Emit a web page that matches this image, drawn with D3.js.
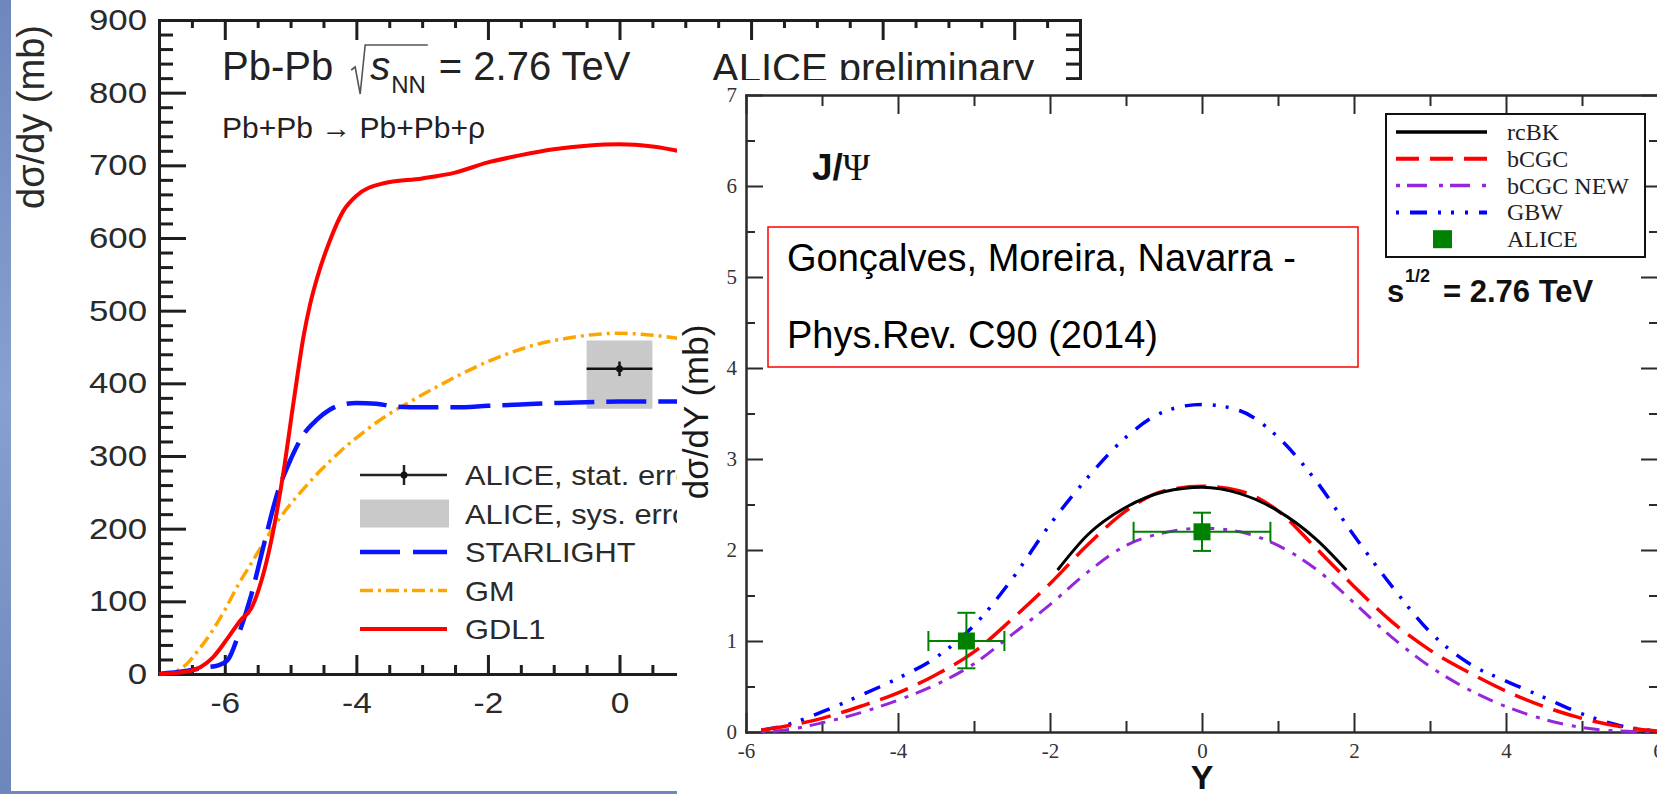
<!DOCTYPE html>
<html>
<head>
<meta charset="utf-8">
<script src="https://cdn.jsdelivr.net/npm/d3@7"></script>
<style>
  html, body { margin: 0; padding: 0; background: #fff; overflow: hidden; }
  svg { display: block; }
</style>
</head>
<body>
<svg id="fig" width="1657" height="794"></svg>
<script>
// ---------------- rho0 photoproduction, Pb-Pb 2.76 TeV ----------------
const gdl1X = [-7, -6.6, -6.36, -6.18, -5.95, -5.76, -5.6, -5.41, -5.27, -5.12, -4.95, -4.8, -4.7, -4.6, -4.4, -4.2, -4.0, -3.6, -3.0, -2.5, -2.0, -1.5, -1.0, -0.5, 0, 0.5, 1.0];
const gdl1V = [0, 3, 10, 23, 50, 74, 90, 139, 194, 271, 377, 466, 510, 544, 597, 637, 658, 675, 682, 690, 704, 714, 722, 727, 729, 726, 718];

const starlightX = [-7, -6.6, -6.3, -6.1, -5.95, -5.8, -5.6, -5.4, -5.2, -5.0, -4.8, -4.6, -4.4, -4.2, -4.0, -3.7, -3.4, -3.0, -2.5, -2.0, -1.5, -1.0, -0.5, 0, 0.5, 1.0];
const starlightV = [0, 4, 9, 12, 20, 52, 108, 180, 249, 295, 330, 350, 364, 371, 373, 372, 368, 367, 367, 369, 371, 373, 374, 375, 375, 375];

const gmX = [-7, -6.8, -6.6, -6.4, -6.2, -6.0, -5.8, -5.6, -5.4, -5.2, -5.0, -4.8, -4.6, -4.4, -4.2, -4.0, -3.6, -3.2, -2.8, -2.4, -2.0, -1.6, -1.2, -0.8, -0.4, 0, 0.4, 0.8, 1.0];
const gmV = [0, 2, 12, 33, 58, 88, 122, 152, 182, 210, 234, 255, 275, 293, 310, 325, 352, 374, 394, 413, 430, 444, 455, 462, 467, 469, 467, 463, 460];

// ALICE preliminary point: value, stat. error, asymmetric sys. error, bin half-width
const rhoDataY = [0];
const rhoDataV = [420];
const rhoStat = [10];
const rhoSysUp = [39];
const rhoSysDown = [55];
const rhoBinHalf = [0.5];

const rhoXTicks = [-6, -4, -2, 0, 2, 4, 6];
const rhoYTicks = [0, 100, 200, 300, 400, 500, 600, 700, 800, 900];
const rhoLegend = ["ALICE, stat. error", "ALICE, sys. error", "STARLIGHT", "GM", "GDL1"];

// ---------------- J/psi photoproduction, sqrt(s) = 2.76 TeV ----------------
const jpsiY = [-5.8, -5.5, -5.0, -4.5, -4.0, -3.5, -3.0, -2.5, -2.0, -1.5, -1.0, -0.5, 0, 0.5, 1.0, 1.5, 2.0, 2.5, 3.0, 3.5, 4.0, 4.5, 5.0, 5.5, 6.0];
const gbwV = [0.02, 0.07, 0.22, 0.40, 0.59, 0.82, 1.17, 1.68, 2.28, 2.80, 3.24, 3.52, 3.60, 3.53, 3.24, 2.76, 2.16, 1.60, 1.10, 0.76, 0.56, 0.38, 0.20, 0.07, 0.01];
const bcgcV = [0.02, 0.06, 0.15, 0.28, 0.43, 0.63, 0.88, 1.24, 1.63, 2.06, 2.43, 2.65, 2.70, 2.65, 2.43, 2.02, 1.60, 1.21, 0.90, 0.66, 0.45, 0.28, 0.15, 0.06, 0.01];
const bcgcNewV = [0.0, 0.02, 0.10, 0.21, 0.35, 0.52, 0.75, 1.07, 1.40, 1.76, 2.05, 2.19, 2.24, 2.20, 2.05, 1.79, 1.42, 1.04, 0.72, 0.47, 0.28, 0.14, 0.05, 0.01, 0.0];

const rcbkY = [-1.9, -1.5, -1.0, -0.5, 0, 0.5, 1.0, 1.5, 1.9];
const rcbkV = [1.78, 2.17, 2.47, 2.64, 2.69, 2.62, 2.43, 2.12, 1.78];

const aliceJpsiY = [-3.1, 0];
const aliceJpsiV = [1.0, 2.2];
const aliceJpsiYErr = [0.5, 0.9];
const aliceJpsiUp = [0.31, 0.21];
const aliceJpsiDown = [0.30, 0.21];

const jpsiXTicks = [-6, -4, -2, 0, 2, 4, 6];
const jpsiXMinor = [-5, -3, -1, 1, 3, 5];
const jpsiYTicks = [0, 1, 2, 3, 4, 5, 6, 7];
const jpsiYMinor = [0.5, 1.5, 2.5, 3.5, 4.5, 5.5, 6.5];
const jpsiLegend = ["rcBK", "bCGC", "bCGC NEW", "GBW", "ALICE"];

// ------------------------------------------------------------------
const SANS = "'Liberation Sans', Arial, Helvetica, sans-serif";
const SERIF = "'Liberation Serif', 'Times New Roman', Times, serif";
const svg = d3.select("#fig");

// widen glyphs horizontally (the ROOT Helvetica rendering is broader than Arial metrics)
function widen(sel, factor) {
  sel.each(function () {
    const w = this.getComputedTextLength();
    if (w > 0) d3.select(this).attr("textLength", w * factor).attr("lengthAdjust", "spacingAndGlyphs");
  });
}

// slide background showing at the edges
const defs = svg.append("defs");
const grad = defs.append("linearGradient").attr("id", "slideBg")
  .attr("x1", 0).attr("y1", 0).attr("x2", 0).attr("y2", 1);
grad.append("stop").attr("offset", 0).attr("stop-color", "#6f87bd");
grad.append("stop").attr("offset", 0.5).attr("stop-color", "#88a0cf");
grad.append("stop").attr("offset", 1).attr("stop-color", "#6d86bb");
svg.append("rect").attr("x", 0).attr("y", 0).attr("width", 11).attr("height", 794).attr("fill", "url(#slideBg)");
svg.append("rect").attr("x", 0).attr("y", 791).attr("width", 677).attr("height", 3).attr("fill", "#6f87bd");

function styleAxis(g, color, width, family, size, textColor) {
  g.attr("font-family", family).attr("font-size", size);
  g.select(".domain").attr("stroke", color).attr("stroke-width", width).attr("stroke-linecap", "square");
  g.selectAll(".tick line").attr("stroke", color).attr("stroke-width", width);
  g.selectAll(".tick text").attr("fill", textColor || color);
}

// ================= left panel =================
const xL = d3.scaleLinear().domain([-7, 7]).range([159, 1080]);
const yL = d3.scaleLinear().domain([0, 900]).range([674, 20]);
const left = svg.append("g");
const axCol = "#1e1e1e";
const lw = 3;

const range = (a, b, s) => { const r = []; for (let v = a; v <= b + 1e-9; v += s) r.push(+v.toFixed(3)); return r; };
const minorLX = range(-7, 7, 0.5).filter(v => !rhoXTicks.includes(v));
const minorLY = range(0, 900, 20).filter(v => !rhoYTicks.includes(v));

// minor ticks first
left.append("g").attr("transform", `translate(${xL(-7)},0)`)
  .call(d3.axisLeft(yL).tickValues(minorLY).tickSize(-14).tickSizeOuter(0).tickFormat(""))
  .call(g => styleAxis(g, axCol, lw, SANS, 30));
left.append("g").attr("transform", `translate(${xL(7)},0)`)
  .call(d3.axisRight(yL).tickValues(minorLY).tickSize(-14).tickSizeOuter(0).tickFormat(""))
  .call(g => styleAxis(g, axCol, lw, SANS, 30));
left.append("g").attr("transform", `translate(0,${yL(0)})`)
  .call(d3.axisBottom(xL).tickValues(minorLX).tickSize(-9).tickSizeOuter(0).tickFormat(""))
  .call(g => styleAxis(g, axCol, lw, SANS, 30));
left.append("g").attr("transform", `translate(0,${yL(900)})`)
  .call(d3.axisTop(xL).tickValues(minorLX).tickSize(-8).tickSizeOuter(0).tickFormat(""))
  .call(g => styleAxis(g, axCol, lw, SANS, 30));

// major ticks and labels
left.append("g").attr("transform", `translate(${xL(-7)},0)`)
  .call(d3.axisLeft(yL).tickValues(rhoYTicks).tickSize(-27).tickSizeOuter(0).tickPadding(12).tickFormat(d => String(d)))
  .call(g => styleAxis(g, axCol, lw, SANS, 30, "#2a2a2a"))
  .call(g => widen(g.selectAll(".tick text"), 1.16));
left.append("g").attr("transform", `translate(${xL(7)},0)`)
  .call(d3.axisRight(yL).tickValues(rhoYTicks).tickSize(-27).tickSizeOuter(0).tickFormat(""))
  .call(g => styleAxis(g, axCol, lw, SANS, 30));
left.append("g").attr("transform", `translate(0,${yL(0)})`)
  .call(d3.axisBottom(xL).tickValues(rhoXTicks).tickSize(-19).tickSizeOuter(0).tickPadding(18).tickFormat(d => String(d)))
  .call(g => styleAxis(g, axCol, lw, SANS, 29, "#2a2a2a"))
  .call(g => widen(g.selectAll(".tick text"), 1.15));
left.append("g").attr("transform", `translate(0,${yL(900)})`)
  .call(d3.axisTop(xL).tickValues(rhoXTicks).tickSize(-20).tickSizeOuter(0).tickFormat(""))
  .call(g => styleAxis(g, axCol, lw, SANS, 30));

// y title
left.append("text")
  .attr("transform", "translate(44,117) rotate(-90)")
  .attr("text-anchor", "middle").attr("font-family", SANS).attr("font-size", 38)
  .attr("fill", "#2a2a2a").text("dσ/dy (mb)");

// systematic box
rhoDataY.forEach((y, i) => {
  left.append("rect")
    .attr("x", xL(y - rhoBinHalf[i])).attr("width", xL(y + rhoBinHalf[i]) - xL(y - rhoBinHalf[i]))
    .attr("y", yL(rhoDataV[i] + rhoSysUp[i])).attr("height", yL(rhoDataV[i] - rhoSysDown[i]) - yL(rhoDataV[i] + rhoSysUp[i]))
    .attr("fill", "#c9c9c9");
});

const lineL = d3.line().x(d => xL(d[0])).y(d => yL(d[1])).curve(d3.curveMonotoneX);
left.append("path").datum(d3.zip(gmX, gmV)).attr("d", lineL)
  .attr("fill", "none").attr("stroke", "#ffa500").attr("stroke-width", 3.5).attr("stroke-dasharray", "13,5,3,5");
left.append("path").datum(d3.zip(starlightX, starlightV)).attr("d", lineL)
  .attr("fill", "none").attr("stroke", "#0a14ff").attr("stroke-width", 4.5).attr("stroke-dasharray", "40,12");
left.append("path").datum(d3.zip(gdl1X, gdl1V)).attr("d", lineL)
  .attr("fill", "none").attr("stroke", "#ff0000").attr("stroke-width", 4);

// data point with stat error
rhoDataY.forEach((y, i) => {
  const cy = yL(rhoDataV[i]);
  left.append("line").attr("x1", xL(y - rhoBinHalf[i])).attr("x2", xL(y + rhoBinHalf[i]))
    .attr("y1", cy).attr("y2", cy).attr("stroke", "#111").attr("stroke-width", 2.5);
  left.append("line").attr("x1", xL(y)).attr("x2", xL(y))
    .attr("y1", yL(rhoDataV[i] + rhoStat[i])).attr("y2", yL(rhoDataV[i] - rhoStat[i]))
    .attr("stroke", "#111").attr("stroke-width", 2.5);
  left.append("circle").attr("cx", xL(y)).attr("cy", cy).attr("r", 3.5).attr("fill", "#111");
});

// header texts
const hdr = left.append("g").attr("font-family", SANS).attr("fill", "#222");
const t1 = hdr.append("text").attr("x", 222).attr("y", 80).attr("font-size", 40).text("Pb-Pb");
const rx = 222 + t1.node().getComputedTextLength() + 20;
const tS = hdr.append("text").attr("x", rx + 17).attr("y", 80).attr("font-size", 40)
  .attr("font-style", "italic").text("s");
const sEnd = rx + 17 + tS.node().getComputedTextLength();
const tNN = hdr.append("text").attr("x", sEnd + 1).attr("y", 93).attr("font-size", 24).text("NN");
const nnEnd = sEnd + 1 + tNN.node().getComputedTextLength();
hdr.append("path")
  .attr("d", `M${rx - 2},70 L${rx + 2},67 L${rx + 7},94 L${rx + 12},45 L${nnEnd + 2},45`)
  .attr("fill", "none").attr("stroke", "#555").attr("stroke-width", 1.6);
hdr.append("text").attr("x", nnEnd + 13).attr("y", 80).attr("font-size", 40).text("= 2.76 TeV");
hdr.append("text").attr("x", 712).attr("y", 82).attr("font-size", 40).text("ALICE preliminary");
hdr.append("text").attr("x", 222).attr("y", 138).attr("font-size", 30).text("Pb+Pb \u2192 Pb+Pb+ρ");

// legend
const legL = left.append("g").attr("font-family", SANS).attr("font-size", 28).attr("fill", "#2a2a2a");
rhoLegend.forEach((name, i) => {
  const y = 475 + i * 38.5;
  if (i === 0) {
    legL.append("line").attr("x1", 360).attr("x2", 447).attr("y1", y).attr("y2", y).attr("stroke", "#222").attr("stroke-width", 2.5);
    legL.append("line").attr("x1", 404).attr("x2", 404).attr("y1", y - 10).attr("y2", y + 10).attr("stroke", "#222").attr("stroke-width", 2.5);
    legL.append("circle").attr("cx", 404).attr("cy", y).attr("r", 3.5).attr("fill", "#111");
  } else if (i === 1) {
    legL.append("rect").attr("x", 360).attr("y", y - 14).attr("width", 89).attr("height", 28).attr("fill", "#c9c9c9");
  } else if (i === 2) {
    legL.append("line").attr("x1", 360).attr("x2", 447).attr("y1", y).attr("y2", y).attr("stroke", "#0a14ff").attr("stroke-width", 4.5).attr("stroke-dasharray", "40,13");
  } else if (i === 3) {
    legL.append("line").attr("x1", 360).attr("x2", 447).attr("y1", y).attr("y2", y).attr("stroke", "#ffa500").attr("stroke-width", 3.5).attr("stroke-dasharray", "13,5,3,5");
  } else {
    legL.append("line").attr("x1", 360).attr("x2", 447).attr("y1", y).attr("y2", y).attr("stroke", "#ff0000").attr("stroke-width", 4);
  }
  legL.append("text").attr("x", 465).attr("y", y + 10).text(name);
});
widen(legL.selectAll("text"), 1.1);

// ================= right panel =================
svg.append("rect").attr("x", 677).attr("y", 80).attr("width", 980).attr("height", 714).attr("fill", "#fff");

const xR = d3.scaleLinear().domain([-6, 6]).range([746, 1658]);
const yR = d3.scaleLinear().domain([0, 7]).range([732, 95]);
const right = svg.append("g");
const rCol = "#2b2b2b";
const rw = 2;

right.append("g").attr("transform", `translate(${xR(-6)},0)`)
  .call(d3.axisLeft(yR).tickValues(jpsiYMinor).tickSize(-9).tickSizeOuter(0).tickFormat(""))
  .call(g => styleAxis(g, rCol, rw, SERIF, 20));
right.append("g").attr("transform", `translate(${xR(6)},0)`)
  .call(d3.axisRight(yR).tickValues(jpsiYMinor).tickSize(-9).tickSizeOuter(0).tickFormat(""))
  .call(g => styleAxis(g, rCol, rw, SERIF, 20));
right.append("g").attr("transform", `translate(0,${yR(0)})`)
  .call(d3.axisBottom(xR).tickValues(jpsiXMinor).tickSize(-11).tickSizeOuter(0).tickFormat(""))
  .call(g => styleAxis(g, rCol, rw, SERIF, 20));
right.append("g").attr("transform", `translate(0,${yR(7)})`)
  .call(d3.axisTop(xR).tickValues(jpsiXMinor).tickSize(-11).tickSizeOuter(0).tickFormat(""))
  .call(g => styleAxis(g, rCol, rw, SERIF, 20));

right.append("g").attr("transform", `translate(${xR(-6)},0)`)
  .call(d3.axisLeft(yR).tickValues(jpsiYTicks).tickSize(-17).tickSizeOuter(0).tickPadding(9).tickFormat(d => String(d)))
  .call(g => styleAxis(g, rCol, rw, SERIF, 21, "#333"));
right.append("g").attr("transform", `translate(${xR(6)},0)`)
  .call(d3.axisRight(yR).tickValues(jpsiYTicks).tickSize(-17).tickSizeOuter(0).tickFormat(""))
  .call(g => styleAxis(g, rCol, rw, SERIF, 20));
right.append("g").attr("transform", `translate(0,${yR(0)})`)
  .call(d3.axisBottom(xR).tickValues(jpsiXTicks).tickSize(-19).tickSizeOuter(0).tickPadding(11).tickFormat(d => String(d)))
  .call(g => styleAxis(g, rCol, rw, SERIF, 21, "#333"));
right.append("g").attr("transform", `translate(0,${yR(7)})`)
  .call(d3.axisTop(xR).tickValues(jpsiXTicks).tickSize(-19).tickSizeOuter(0).tickFormat(""))
  .call(g => styleAxis(g, rCol, rw, SERIF, 20));

// axis titles
right.append("text").attr("transform", "translate(708,412) rotate(-90)")
  .attr("text-anchor", "middle").attr("font-family", SANS).attr("font-size", 35)
  .attr("fill", "#1a1a1a").text("dσ/dY (mb)");
right.append("text").attr("x", 1202).attr("y", 789).attr("text-anchor", "middle")
  .attr("font-family", SANS).attr("font-weight", "bold").attr("font-size", 34).attr("fill", "#111").text("Y");

// model curves
const jpsiStyles = {
  "rcBK": { color: "#000000", width: 3, dash: null, legDash: null },
  "bCGC": { color: "#ff0000", width: 3.5, dash: "30,11", legDash: "23,11" },
  "bCGC NEW": { color: "#9426dc", width: 3, dash: "4,8,16,9", legDash: "4,7,20,12" },
  "GBW": { color: "#0000ff", width: 3.5, dash: "17,11,3,10,3,11", legDash: "3,11,17,11,3,10,3,11" }
};
const lineR = d3.line().x(d => xR(d[0])).y(d => yR(d[1])).curve(d3.curveMonotoneX);
const curveSets = [
  ["GBW", d3.zip(jpsiY, gbwV)],
  ["bCGC NEW", d3.zip(jpsiY, bcgcNewV)],
  ["bCGC", d3.zip(jpsiY, bcgcV)],
  ["rcBK", d3.zip(rcbkY, rcbkV)]
];
curveSets.forEach(([name, pts]) => {
  const s = jpsiStyles[name];
  right.append("path").datum(pts).attr("d", lineR)
    .attr("fill", "none").attr("stroke", s.color).attr("stroke-width", s.width)
    .attr("stroke-dasharray", s.dash);
});

// ALICE J/psi points
const green = "#008000";
aliceJpsiY.forEach((y, i) => {
  const cx = xR(y), cy = yR(aliceJpsiV[i]);
  const g = right.append("g").attr("stroke", green).attr("stroke-width", 2);
  const x0 = xR(y - aliceJpsiYErr[i]), x1 = xR(y + aliceJpsiYErr[i]);
  const y0 = yR(aliceJpsiV[i] + aliceJpsiUp[i]), y1 = yR(aliceJpsiV[i] - aliceJpsiDown[i]);
  g.append("line").attr("x1", x0).attr("x2", x1).attr("y1", cy).attr("y2", cy);
  g.append("line").attr("x1", x0).attr("x2", x0).attr("y1", cy - 10).attr("y2", cy + 10);
  g.append("line").attr("x1", x1).attr("x2", x1).attr("y1", cy - 10).attr("y2", cy + 10);
  g.append("line").attr("x1", cx).attr("x2", cx).attr("y1", y0).attr("y2", y1);
  g.append("line").attr("x1", cx - 9).attr("x2", cx + 9).attr("y1", y0).attr("y2", y0);
  g.append("line").attr("x1", cx - 9).attr("x2", cx + 9).attr("y1", y1).attr("y2", y1);
  right.append("rect").attr("x", cx - 8.5).attr("y", cy - 8.5).attr("width", 17).attr("height", 17).attr("fill", green);
});

// J/Psi label
const jl = right.append("text").attr("x", 812).attr("y", 180).attr("font-size", 37).attr("fill", "#111");
jl.append("tspan").attr("font-family", SANS).attr("font-weight", "bold").text("J/");
jl.append("tspan").attr("font-family", SERIF).text("Ψ");

// reference box
right.append("rect").attr("x", 768).attr("y", 227).attr("width", 590).attr("height", 140)
  .attr("fill", "none").attr("stroke", "#ff0000").attr("stroke-width", 1.5);
right.append("text").attr("x", 787).attr("y", 271).attr("font-family", SANS).attr("font-size", 38)
  .attr("fill", "#000").text("Gonçalves, Moreira, Navarra -");
right.append("text").attr("x", 787).attr("y", 348).attr("font-family", SANS).attr("font-size", 38)
  .attr("fill", "#000").text("Phys.Rev. C90 (2014)");

// legend
const legR = right.append("g");
legR.append("rect").attr("x", 1386).attr("y", 114).attr("width", 259).attr("height", 143)
  .attr("fill", "#fff").attr("stroke", "#111").attr("stroke-width", 2);
jpsiLegend.forEach((name, i) => {
  const y = 132 + i * 26.8;
  if (name === "ALICE") {
    legR.append("rect").attr("x", 1433).attr("y", y - 9).attr("width", 19).attr("height", 18).attr("fill", green);
  } else {
    const s = jpsiStyles[name];
    legR.append("line").attr("x1", 1396).attr("x2", 1487).attr("y1", y).attr("y2", y)
      .attr("stroke", s.color).attr("stroke-width", s.width + 0.5).attr("stroke-dasharray", s.legDash);
  }
  legR.append("text").attr("x", 1507).attr("y", y + 8).attr("font-family", SERIF).attr("font-size", 24)
    .attr("fill", "#222").text(name);
});

// energy label
const el = right.append("g").attr("font-family", SANS).attr("font-weight", "bold").attr("fill", "#111");
el.append("text").attr("x", 1387).attr("y", 302).attr("font-size", 31).text("s");
el.append("text").attr("x", 1405).attr("y", 282).attr("font-size", 18).text("1/2");
el.append("text").attr("x", 1443).attr("y", 302).attr("font-size", 31).text("= 2.76 TeV");
</script>
</body>
</html>
